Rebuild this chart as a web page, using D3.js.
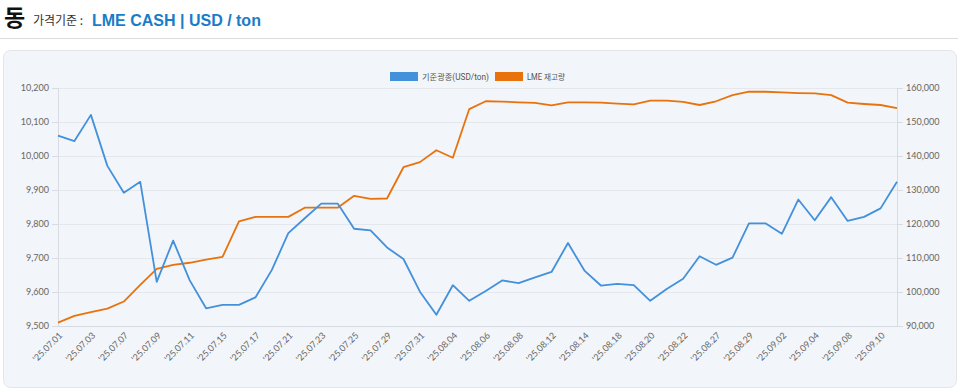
<!DOCTYPE html>
<html><head><meta charset="utf-8">
<script src="https://cdn.jsdelivr.net/npm/d3@7"></script>
<style>
body{margin:0;background:#fff;font-family:"Noto Sans CJK KR","Noto Sans",sans-serif;}
svg{display:block;}
</style></head>
<body><svg id="c" width="960" height="390"></svg>
<script>
const dates = ["'25.07.01","'25.07.02","'25.07.03","'25.07.04","'25.07.07","'25.07.08","'25.07.09","'25.07.10","'25.07.11","'25.07.14","'25.07.15","'25.07.16","'25.07.17","'25.07.18","'25.07.21","'25.07.22","'25.07.23","'25.07.24","'25.07.25","'25.07.28","'25.07.29","'25.07.30","'25.07.31","'25.08.01","'25.08.04","'25.08.05","'25.08.06","'25.08.07","'25.08.08","'25.08.11","'25.08.12","'25.08.13","'25.08.14","'25.08.15","'25.08.18","'25.08.19","'25.08.20","'25.08.21","'25.08.22","'25.08.26","'25.08.27","'25.08.28","'25.08.29","'25.09.01","'25.09.02","'25.09.03","'25.09.04","'25.09.05","'25.09.08","'25.09.09","'25.09.10","'25.09.11"];
const price = [10060,10044,10121,9971,9892,9924,9630,9751,9635,9552,9562,9562,9584,9665,9773,9817,9860,9860,9786,9781,9731,9697,9601,9533,9620,9574,9603,9634,9626,9643,9659,9744,9663,9619,9624,9620,9574,9609,9639,9705,9680,9701,9802,9802,9771,9872,9811,9879,9809,9821,9846,9924];
const stock = [91000,93000,94100,95100,97200,102100,106800,108000,108600,109500,110300,120800,122100,122100,122100,124800,124800,124800,128300,127400,127500,136700,138200,141700,139500,153800,156100,156000,155800,155600,154900,155800,155800,155700,155400,155200,156300,156300,155900,155000,156100,157900,158900,158900,158700,158500,158400,157900,155700,155300,155000,154100];
const priceTicks = [9500,9600,9700,9800,9900,10000,10100,10200];
const stockTicks = [90000,100000,110000,120000,130000,140000,150000,160000];
const seriesNames = ["기준광종(USD/ton)","LME 재고량"];
const colors = ["#4390db","#e8730c"];

const svg = d3.select("#c");
const font = "'Noto Sans CJK KR','Noto Sans',sans-serif";

// Header
svg.append("text").attr("x",4).attr("y",26).attr("font-size",23).attr("font-weight","bold").attr("fill","#111").attr("font-family",font).text("동");
svg.append("text").attr("x",33).attr("y",25).attr("font-size",12).attr("fill","#333").attr("font-family",font).text("가격기준 :");
svg.append("text").attr("x",92).attr("y",26).attr("font-size",16).attr("font-weight","bold").attr("fill","#1a7cc9").attr("font-family","'Liberation Sans',Arial,sans-serif").text("LME CASH | USD / ton");
svg.append("line").attr("x1",0).attr("x2",958).attr("y1",38.5).attr("y2",38.5).attr("stroke","#dcdcdc");

// container
svg.append("rect").attr("x",3.5).attr("y",50.5).attr("width",953).attr("height",337).attr("rx",7)
  .attr("fill","#f2f5f9").attr("stroke","#e2e6eb");

const L=58, R=897, T=88, B=326;
const x = d3.scalePoint().domain(d3.range(dates.length)).range([L,R]);
const yL = d3.scaleLinear().domain([9500,10200]).range([B,T]);
const yR = d3.scaleLinear().domain([90000,160000]).range([B,T]);

// grid
svg.append("g").selectAll("line").data(priceTicks).join("line")
  .attr("x1",L).attr("x2",R).attr("y1",d=>Math.round(yL(d))+0.5).attr("y2",d=>Math.round(yL(d))+0.5)
  .attr("stroke","#e4e7ec");

const axFmt = d3.format(",");
const gl = svg.append("g").attr("transform",`translate(${L},0)`)
  .call(d3.axisLeft(yL).tickValues(priceTicks).tickFormat(axFmt).tickSize(6).tickPadding(3));
const gr = svg.append("g").attr("transform",`translate(${R},0)`)
  .call(d3.axisRight(yR).tickValues(stockTicks).tickFormat(axFmt).tickSize(6).tickPadding(3));
[gl,gr].forEach(g=>{
  g.select(".domain").attr("stroke","#d8dce2");
  g.selectAll(".tick line").attr("stroke","#d8dce2");
  g.selectAll("text").attr("fill","#666").attr("font-size",9).attr("font-family","Lato,'Noto Sans',sans-serif");
});
svg.append("line").attr("x1",L).attr("x2",R).attr("y1",B+0.5).attr("y2",B+0.5).attr("stroke","#d8dce2");

// x labels (every other)
const xl = svg.append("g");
xl.selectAll("text").data(d3.range(0,dates.length,2).filter(i=>i<=50)).join("text")
  .attr("transform",i=>`translate(${x(i)+5},${B+10}) rotate(-45)`)
  .attr("text-anchor","end").attr("font-size",9).attr("fill","#666")
  .attr("font-family","Lato,'Noto Sans',sans-serif")
  .text(i=>dates[i]);

// lines
const idx = d3.range(dates.length);
svg.append("path").datum(idx).attr("fill","none").attr("stroke",colors[1]).attr("stroke-width",1.8)
  .attr("stroke-linejoin","round")
  .attr("d",d3.line().x(i=>x(i)).y(i=>yR(stock[i])));
svg.append("path").datum(idx).attr("fill","none").attr("stroke",colors[0]).attr("stroke-width",1.8)
  .attr("stroke-linejoin","round")
  .attr("d",d3.line().x(i=>x(i)).y(i=>yL(price[i])));

// legend
const lg = svg.append("g");
const lx = [390,495];
const tl = [67,38];
seriesNames.forEach((n,k)=>{
  lg.append("rect").attr("x",lx[k]).attr("y",72).attr("width",28).attr("height",9).attr("fill",colors[k]);
  lg.append("text").attr("x",lx[k]+32).attr("y",80).attr("font-size",8.5).attr("fill","#555")
    .attr("font-family","Roboto,'Noto Sans CJK KR',sans-serif")
    .attr("textLength",tl[k]).attr("lengthAdjust","spacingAndGlyphs").text(n);
});
</script></body></html>
